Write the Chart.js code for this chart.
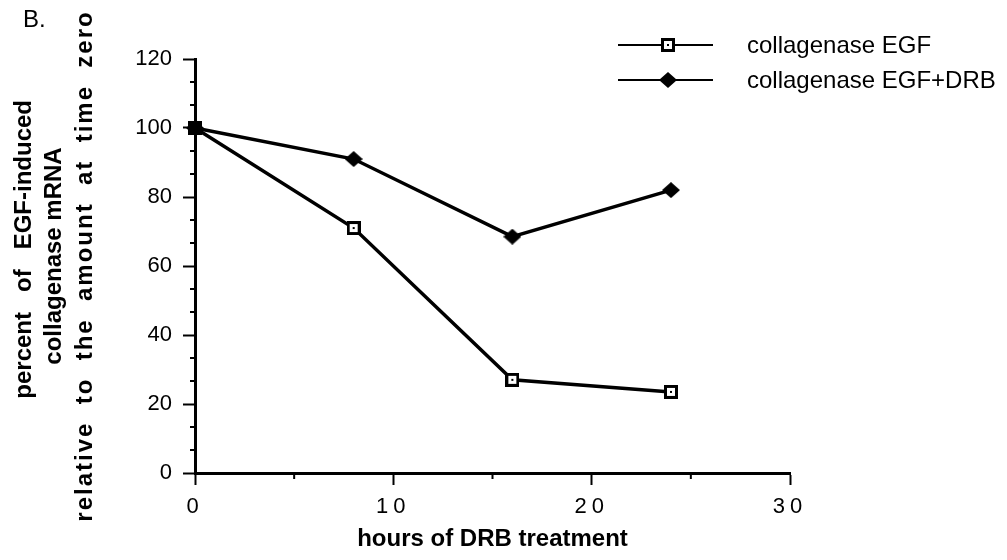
<!DOCTYPE html>
<html>
<head>
<meta charset="utf-8">
<title>Collagenase mRNA after DRB treatment</title>
<script src="https://cdn.jsdelivr.net/npm/chart.js@4.4.1/dist/chart.umd.min.js"></script>
<style>
  html, body { margin: 0; padding: 0; background: #fff; }
  canvas { display: block; }
</style>
</head>
<body>
<canvas id="drbChart" width="1007" height="560"></canvas>
<script>
// hours of DRB treatment
const hours = [0, 8, 16, 24];
// percent of EGF-induced collagenase mRNA, relative to time zero
const egfValues = [100, 71, 27, 23.5];
const egfDrbValues = [100, 91, 68.5, 82];
const seriesLabels = ['collagenase EGF', 'collagenase EGF+DRB'];

const xTicks = [0, 10, 20, 30];
const xMinorTicks = [5, 15, 25];
const yTicks = [0, 20, 40, 60, 80, 100, 120];
const yMinorTicks = [6.67, 13.33, 26.67, 33.33, 46.67, 53.33, 66.67, 73.33, 86.67, 93.33, 106.67, 113.33];

// the scanned figure spreads the words out, spaces keep that look
const yTitleOuter = ['     percent   of   EGF-induced', '   collagenase mRNA'];
const yTitleInner = 'relative  to  the  amount  at  time  zero';
const xTitle = 'hours of DRB treatment';
const panelLabel = 'B.';

const FONT = "'Liberation Sans', Arial, Helvetica, sans-serif";
Chart.defaults.font.family = FONT;
Chart.defaults.color = '#000';

// marker images: open square with a dot, filled diamond
function makeSquare() {
    const c = document.createElement('canvas');
    c.width = 14; c.height = 14;
    const g = c.getContext('2d');
    g.fillStyle = '#000'; g.fillRect(0, 0, 14, 14);
    g.fillStyle = '#fff'; g.fillRect(3, 3, 8, 8);
    g.fillStyle = '#000'; g.fillRect(6, 6, 2, 2);
    return c;
}

function makeDiamond() {
    const c = document.createElement('canvas');
    c.width = 18; c.height = 16;
    const g = c.getContext('2d');
    g.fillStyle = '#000';
    g.beginPath();
    g.moveTo(9, 0); g.lineTo(18, 8); g.lineTo(9, 16); g.lineTo(0, 8);
    g.closePath();
    g.fill();
    return c;
}

const squareMark = makeSquare();
const diamondMark = makeDiamond();

function toPoints(values) {
    return hours.map((h, i) => ({ x: h, y: values[i] }));
}

// wrap one of a scale's draw steps so its text gets letter spacing
function spaceOut(scale, method, spacing) {
    const flag = '_spaced_' + method;
    if (scale[flag]) return;
    scale[flag] = true;
    const orig = scale[method];
    scale[method] = function(...args) {
        this.ctx.save();
        this.ctx.letterSpacing = spacing;
        orig.apply(this, args);
        this.ctx.restore();
    };
}

// small ticks between the labelled ones
const minorTicks = {
    id: 'minorTicks',
    afterDraw(chart) {
        const { ctx, chartArea, scales: { x, y } } = chart;
        ctx.save();
        ctx.strokeStyle = '#000';
        ctx.lineWidth = 2;
        ctx.beginPath();
        yMinorTicks.forEach(v => {
            const py = y.getPixelForValue(v);
            ctx.moveTo(chartArea.left - 5, py);
            ctx.lineTo(chartArea.left, py);
        });
        xMinorTicks.forEach(v => {
            const px = x.getPixelForValue(v);
            ctx.moveTo(px, chartArea.bottom);
            ctx.lineTo(px, chartArea.bottom + 6);
        });
        ctx.stroke();
        ctx.restore();
    }
};

// legend drawn as line - marker - line, like the original
const lineLegend = {
    id: 'lineLegend',
    afterDraw(chart) {
        const ctx = chart.ctx;
        const rows = [
            { label: seriesLabels[0], mark: squareMark, y: 45 },
            { label: seriesLabels[1], mark: diamondMark, y: 80 }
        ];
        ctx.save();
        ctx.strokeStyle = '#000';
        ctx.fillStyle = '#000';
        ctx.lineWidth = 2;
        ctx.font = '24px ' + FONT;
        ctx.textBaseline = 'middle';
        rows.forEach(r => {
            ctx.beginPath();
            ctx.moveTo(618, r.y);
            ctx.lineTo(713, r.y);
            ctx.stroke();
            ctx.drawImage(r.mark, 668 - r.mark.width / 2, r.y - r.mark.height / 2);
            ctx.fillText(r.label, 747, r.y + 1);
        });
        ctx.fillText(panelLabel, 23, 20);
        ctx.restore();
    }
};

const ctx = document.getElementById('drbChart').getContext('2d');
const drbChart = new Chart(ctx, {
    type: 'line',
    data: {
        datasets: [{
            label: seriesLabels[0],
            data: toPoints(egfValues),
            borderColor: '#000',
            borderWidth: 3.5,
            pointStyle: squareMark,
            pointRadius: 7,
            clip: false,
            order: 1
        }, {
            label: seriesLabels[1],
            data: toPoints(egfDrbValues),
            borderColor: '#000',
            borderWidth: 3.5,
            pointStyle: diamondMark,
            pointRadius: 8,
            clip: false,
            order: 0
        }]
    },
    options: {
        responsive: false,
        animation: false,
        layout: { padding: { left: 0, top: 59, right: 217, bottom: 0 } },
        plugins: { legend: { display: false }, tooltip: { enabled: false } },
        scales: {
            x: {
                type: 'linear',
                min: 0,
                max: 30,
                afterBuildTicks: s => { s.ticks = xTicks.map(v => ({ value: v })); },
                afterFit: s => { s.height = 87; s.paddingLeft = 0; s.paddingRight = 0; },
                afterUpdate: s => spaceOut(s, 'drawLabels', '5px'),
                ticks: { font: { size: 22 }, padding: 9, maxRotation: 0 },
                grid: { drawOnChartArea: false, tickLength: 12, tickWidth: 2, tickColor: '#000', color: '#000' },
                border: { display: true, color: '#000', width: 3 },
                title: {
                    display: true,
                    text: xTitle,
                    font: { size: 24, weight: 'bold' },
                    padding: { top: 0, bottom: 6 }
                }
            },
            y: {
                type: 'linear',
                position: 'left',
                weight: 0,
                min: 0,
                max: 120,
                afterBuildTicks: s => { s.ticks = yTicks.map(v => ({ value: v })); },
                afterFit: s => { s.width = 125; s.paddingTop = 0; s.paddingBottom = 0; },
                // the last title line is letter-spaced in the original
                afterUpdate: s => spaceOut(s, 'drawTitle', '2px'),
                ticks: { font: { size: 22 }, padding: 11 },
                grid: { drawOnChartArea: false, tickLength: 12, tickWidth: 2, tickColor: '#000', color: '#000' },
                border: { display: true, color: '#000', width: 3 },
                title: {
                    display: true,
                    text: yTitleInner,
                    font: { size: 24, weight: 'bold', lineHeight: 1.25 },
                    padding: { top: 0, bottom: 0 }
                }
            },
            yTitle: {
                type: 'linear',
                position: 'left',
                weight: 1,
                min: 0,
                max: 120,
                afterFit: s => { s.width = 70; s.paddingTop = 0; s.paddingBottom = 0; },
                ticks: { display: false },
                grid: { display: false },
                border: { display: false },
                title: {
                    display: true,
                    text: yTitleOuter,
                    font: { size: 24, weight: 'bold', lineHeight: 1.25 },
                    padding: { top: 9, bottom: 0 }
                }
            }
        }
    },
    plugins: [minorTicks, lineLegend]
});
</script>
</body>
</html>
